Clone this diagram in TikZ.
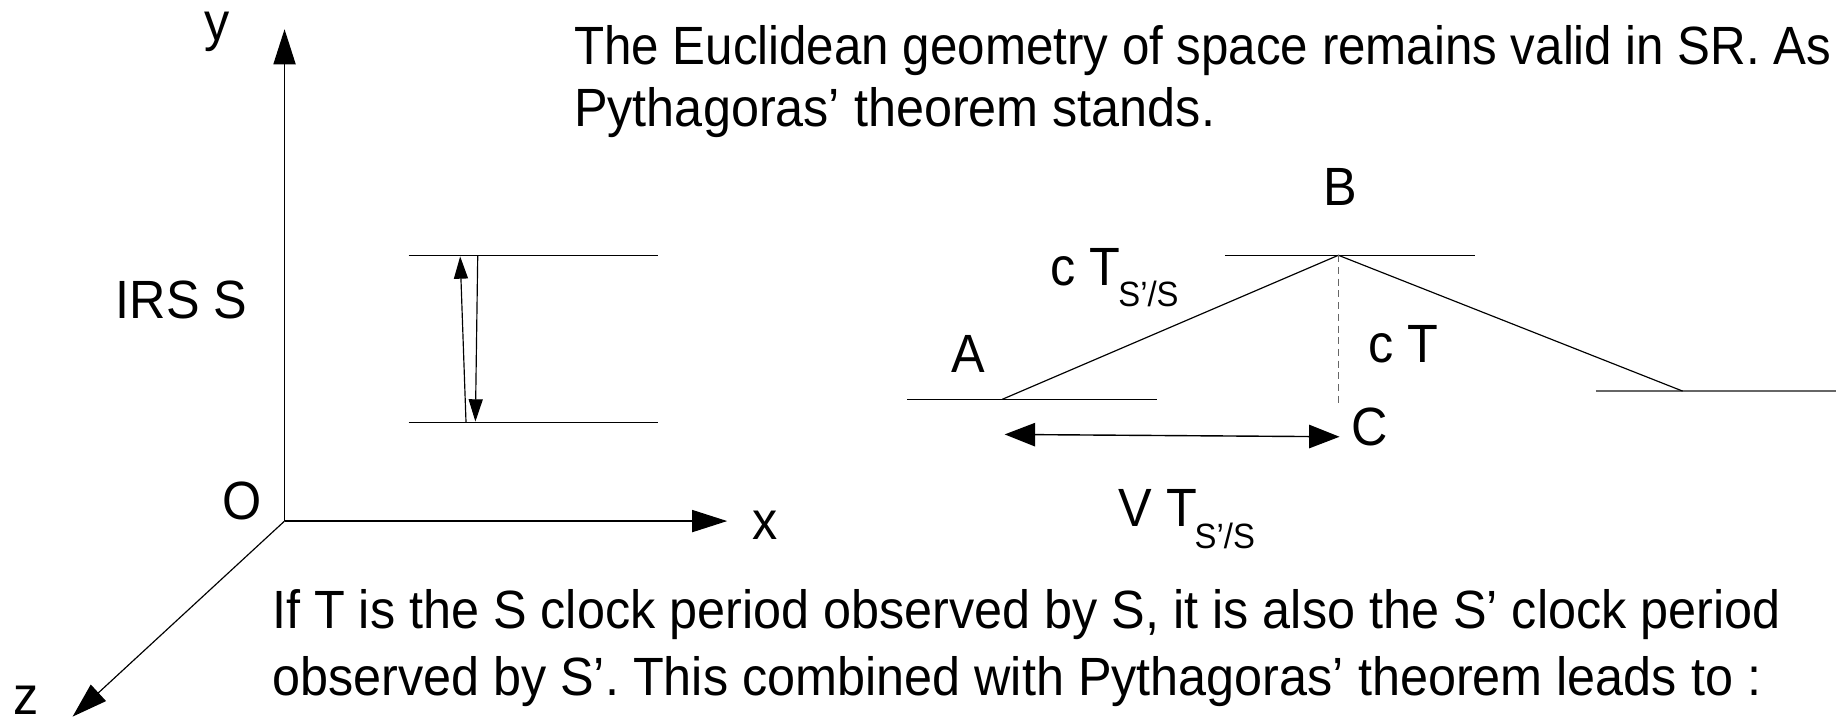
\documentclass[tikz,border=0pt]{standalone}
\usepackage{fontspec}
\setmainfont{Liberation Sans}[FakeStretch=0.935]
\newfontfamily\narrowfont{Liberation Sans}[FakeStretch=0.915]
\usetikzlibrary{arrows.meta}
\newcommand{\subSS}{\kern-1pt\raisebox{-9pt}{\fontsize{15}{15}\selectfont S’/S}}
\begin{document}
\begin{tikzpicture}[x=0.5pt,y=-0.5pt,
  ln/.style={line width=0.5pt,black},
  axisarrow/.style={ln,-{Triangle[length=15pt,width=9.5pt]}},
  clockarrow/.style={ln,-{Triangle[length=9.5pt,width=6pt]}},
  bigarrow/.style={line width=0.6pt,{Triangle[length=13pt,width=10pt]}-{Triangle[length=13pt,width=10pt]}},
  txt/.style={font=\fontsize{23}{27.5}\selectfont,inner sep=0pt,anchor=base west},
  lbl/.style={font=\fontsize{23}{27.5}\selectfont,inner sep=0pt}]
\clip (0,0) rectangle (1568,618);
\fill[white] (0,0) rectangle (1568,618);
% axes
\coordinate (O) at (243,445);
\coordinate (Ytip) at (243,25);
\coordinate (Xtip) at (621,445);
\coordinate (Ztip) at (62,612);
\draw[axisarrow] (O) -- (Ytip);
\draw[axisarrow] (O) -- (Xtip);
\draw[axisarrow] (O) -- (Ztip);
\node[lbl] (ylab) at (185,27) {y};
\node[lbl] (xlab) at (653,449) {x};
\node[lbl] (zlab) at (22,598) {z};
\node[lbl] (olab) at (207,428) {O};
\node[lbl] (irs) at (155,256) {IRS S};
% clock in S
\coordinate (c1l) at (349,218); \coordinate (c1r) at (562,218);
\coordinate (c2l) at (349,361); \coordinate (c2r) at (562,361);
\draw[ln] (c1l) -- (c1r);
\draw[ln] (c2l) -- (c2r);
\coordinate (upS) at (398,361); \coordinate (upE) at (393,219);
\coordinate (dnS) at (408,218); \coordinate (dnE) at (406,360);
\draw[clockarrow] (upS) -- (upE);
\draw[clockarrow] (dnS) -- (dnE);
% moving clock
\coordinate (Bl) at (1046,218); \coordinate (Br) at (1260,218); \coordinate (Bp) at (1143,218);
\coordinate (Al) at (775,341); \coordinate (Ar) at (988,341); \coordinate (Ap) at (856,341);
\coordinate (Rl) at (1363,334); \coordinate (Rr) at (1575,334); \coordinate (Rp) at (1437,334);
\coordinate (Cp) at (1143,345);
\coordinate (dl) at (858,371); \coordinate (dr) at (1144,373);
\draw[ln] (Bl) -- (Br);
\draw[ln] (Al) -- (Ar);
\draw[line width=0.8pt,black!60] (Rl) -- (Rr);
\draw[ln] (Ap) -- (Bp) -- (Rp);
\draw[line width=0.5pt,black!60,dash pattern=on 3pt off 2pt] (Bp) -- (Cp);
\draw[bigarrow] (dl) -- (dr);
\node[lbl] (Blab) at (1145,160) {B};
\node[lbl] (Alab) at (827,302) {A};
\node[lbl] (Clab) at (1170,365) {C};
\node[txt] (cTss) at (897,244) {c T\subSS};
\node[txt] (cT) at (1168,310) {c T};
\node[txt] (vTss) at (955,450) {V T\subSS};
% texts
\node[txt] (top1) at (490,55) {\narrowfont The Euclidean geometry of space remains valid in SR. As a};
\node[txt] (top2) at (490,108) {Pythagoras’ theorem stands.};
\node[txt] (bot1) at (232,537) {If T is the S clock period observed by S, it is also the S’ clock period};
\node[txt] (bot2) at (232,594) {observed by S’. This combined with Pythagoras’ theorem leads to :};
\end{tikzpicture}
\end{document}
